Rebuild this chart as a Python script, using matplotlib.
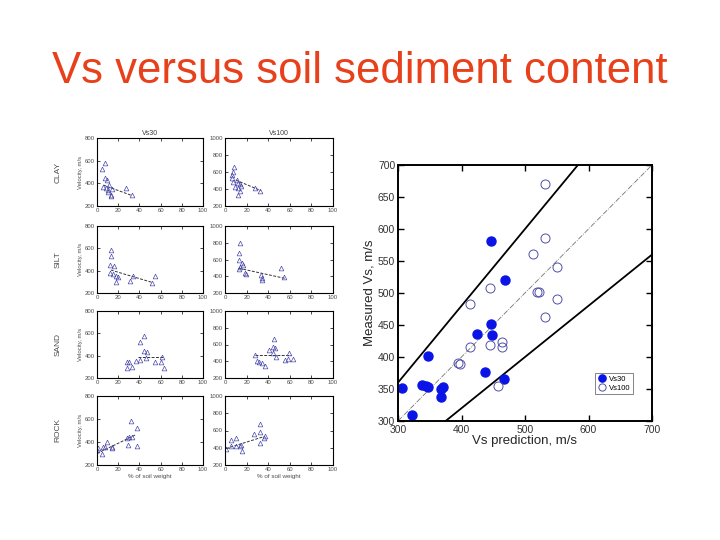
import numpy as np
import matplotlib
matplotlib.use('Agg')
import matplotlib.pyplot as plt

plt.rcParams['font.family'] = ['Liberation Sans', 'DejaVu Sans']

# ---- data ----
# right panel: measured vs predicted Vs
vs30_pred = [306, 322, 338, 344, 348, 347, 367, 368, 371, 424, 437, 447, 448, 467, 447, 468]
vs30_meas = [352, 310, 356, 355, 353, 401, 337, 350, 353, 436, 377, 451, 434, 365, 581, 521]
vs100_pred = [413, 414, 395, 397, 445, 463, 463, 458, 445, 519, 512, 531, 531, 551, 522, 551, 531]
vs100_meas = [483, 415, 391, 389, 419, 424, 416, 354, 508, 502, 561, 670, 586, 541, 502, 490, 463]

# left panels: % of soil weight vs velocity
clay30_pct = [8, 5, 7.5, 9, 6, 8.5, 10.7, 14, 11.6, 13, 13.5, 27, 33, 10]
clay30_vs = [582, 524, 444, 429, 370, 356, 341, 350, 385, 291, 295, 356, 297, 320]
clay30_fit = [[6, 33], [385, 292]]
clay100_pct = [8.6, 7.7, 6.8, 6.2, 7.7, 10.8, 11.7, 13.8, 9.5, 12.3, 11.7, 13.8, 27.7, 32.3, 14.8]
clay100_vs = [662, 604, 565, 526, 486, 506, 467, 455, 427, 408, 329, 380, 408, 376, 440]
clay100_fit = [[10, 33], [505, 382]]

silt30_pct = [13, 13, 12.3, 16, 12.3, 15.4, 18, 19.5, 18, 31, 34, 51.6, 54.7]
silt30_vs = [585, 531, 451, 442, 377, 371, 353, 341, 302, 311, 356, 293, 356]
silt30_fit = [[13, 51.6], [406, 296]]
silt100_pct = [13.8, 13.2, 13.2, 15.4, 13.8, 16.6, 13.2, 18.5, 19.4, 33, 33.8, 33.8, 51.7, 54.5]
silt100_vs = [793, 681, 594, 555, 514, 534, 483, 435, 427, 415, 355, 385, 495, 395]
silt100_fit = [[13, 55.4], [495, 375]]

sand30_pct = [44.6, 40.6, 44.6, 46.9, 46, 40.6, 36.8, 30.5, 28.6, 32.7, 28, 54.7, 60, 61, 63.2]
sand30_vs = [579, 525, 442, 436, 376, 361, 352, 346, 346, 301, 290, 346, 346, 385, 287]
sand30_fit = [[39, 63], [390, 390]]
sand100_pct = [45.2, 44, 46.5, 40.6, 44.6, 28, 31.7, 29.8, 33.8, 37.2, 59.4, 58.5, 55.4, 62.5, 47]
sand100_vs = [666, 574, 555, 534, 494, 474, 395, 400, 383, 343, 494, 422, 415, 431, 454]
sand100_fit = [[28, 61], [472, 472]]

rock30_pct = [31.8, 37.5, 30.5, 32.7, 28, 29.5, 37.5, 9.7, 7.5, 5.7, 13.9, 1.3, 0, 4.4, 13.9]
rock30_vs = [585, 519, 447, 447, 435, 372, 365, 403, 360, 360, 346, 352, 330, 296, 360]
rock30_fit = [[0, 37], [300, 465]]
rock100_pct = [32.3, 32.3, 37, 27, 32.3, 36, 9.9, 5.5, 5.5, 9.9, 14.5, 15.4, 0.9, 13.8]
rock100_vs = [672, 587, 536, 556, 452, 510, 514, 486, 425, 425, 437, 360, 391, 420]
rock100_fit = [[1, 37], [391, 533]]

row_names = ['CLAY', 'SILT', 'SAND', 'ROCK']
panels30 = [(clay30_pct, clay30_vs, clay30_fit), (silt30_pct, silt30_vs, silt30_fit),
            (sand30_pct, sand30_vs, sand30_fit), (rock30_pct, rock30_vs, rock30_fit)]
panels100 = [(clay100_pct, clay100_vs, clay100_fit), (silt100_pct, silt100_vs, silt100_fit),
             (sand100_pct, sand100_vs, sand100_fit), (rock100_pct, rock100_vs, rock100_fit)]

W, H = 720, 540
fig = plt.figure(figsize=(7.2, 5.4), dpi=100)


def box(l, t, r, b):
    # pixel box -> figure fraction rect
    return [l / W, 1 - b / H, (r - l) / W, (b - t) / H]


fig.text(0.5, 1 - 83 / H, 'Vs versus soil sediment content', ha='center', va='baseline',
         fontsize=31.5, color='#E8401A')

tri_col = '#4a4aaa'
rows_px = [(138, 206), (226, 293), (311, 378), (396, 465)]
cols_px = [(97, 203), (225, 333)]

for c, (panels, ymax, ttl) in enumerate([(panels30, 800, 'Vs30'), (panels100, 1000, 'Vs100')]):
    l, r = cols_px[c]
    for i, (px, vs, fit) in enumerate(panels):
        t, b = rows_px[i]
        ax = fig.add_axes(box(l, t, r, b))
        ax.plot(fit[0], fit[1], '--', color='0.2', lw=0.7, dashes=(3, 1.5))
        ax.plot(px, vs, '^', mfc='none', mec=tri_col, ms=3.4, mew=0.5, ls='none')
        ax.set_xlim(0, 100)
        ax.set_ylim(200, ymax)
        ax.set_xticks(np.arange(0, 101, 20))
        ax.set_yticks(np.arange(200, ymax + 1, 200))
        ax.tick_params(direction='in', length=2, width=0.5, labelsize=4.3,
                       labelcolor='0.3', top=True, right=True, pad=1.5)
        for s in ax.spines.values():
            s.set_linewidth(0.8)
        if i == 0:
            ax.set_title(ttl, fontsize=5, color='0.25', pad=2.5)
        if i == 3:
            ax.set_xlabel('% of soil weight', fontsize=4.5, color='0.3', labelpad=1.5)
        if c == 0:
            ax.set_ylabel('Velocity, m/s', fontsize=4.3, color='0.3', labelpad=1)
            fig.text(58 / W, 1 - (t + b) / 2 / H, row_names[i], rotation=90, ha='center',
                     va='center', fontsize=6, color='0.3')

# right panel
ax = fig.add_axes(box(398, 165, 652, 421))
xx = np.array([300, 700])
ax.plot(xx, xx, '-.', color='0.45', lw=0.6)
ax.plot(xx, 1.2 * xx, '-', color='black', lw=1.3)
ax.plot(xx, 0.8 * xx, '-', color='black', lw=1.3)
ax.plot(vs30_pred, vs30_meas, 'o', color='#0a14e6', ms=6.5, ls='none', label='Vs30')
ax.plot(vs100_pred, vs100_meas, 'o', mfc='none', mec='#5050a8', ms=6.5, mew=0.7, ls='none', label='Vs100')
ax.set_xlim(300, 700)
ax.set_ylim(300, 700)
ax.set_xticks(np.arange(300, 701, 100))
ax.set_yticks(np.arange(300, 701, 50))
ax.tick_params(direction='in', length=4, width=1, labelsize=7.5, labelcolor='0.2',
               top=True, right=True, pad=2)
ax.tick_params(axis='x', pad=3)
for s in ax.spines.values():
    s.set_linewidth(1.4)
ax.set_xlabel('Vs prediction, m/s', fontsize=9.5, color='0.15', labelpad=0)
ax.set_ylabel('Measured Vs, m/s', fontsize=9.5, color='0.15', labelpad=2)
leg = ax.legend(loc='lower right', bbox_to_anchor=(0.941, 0.09), fontsize=5.5, frameon=True,
                fancybox=False, edgecolor='0.3', handlelength=1.2, handletextpad=0.4,
                borderpad=0.3, labelspacing=0.2, markerscale=0.8)
leg.get_frame().set_linewidth(0.6)

fig.savefig('out.png', dpi=100)
